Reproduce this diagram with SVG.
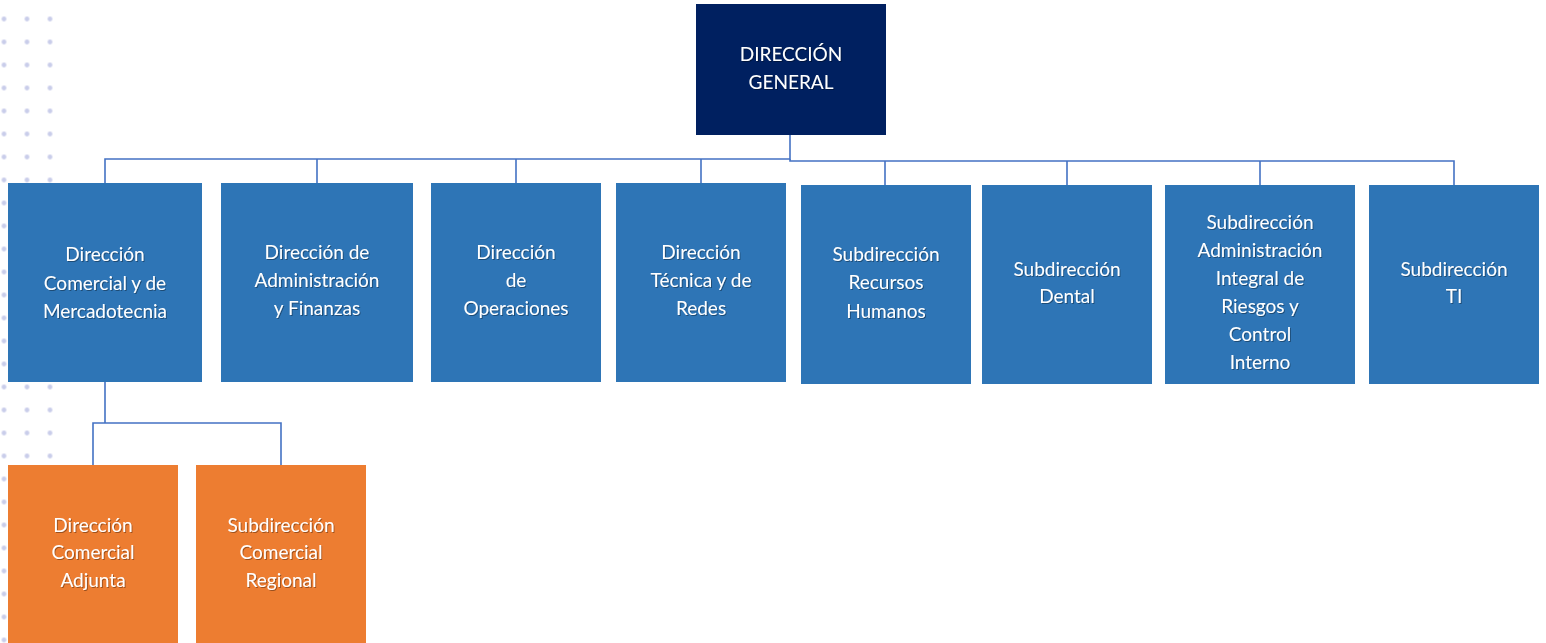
<svg xmlns="http://www.w3.org/2000/svg" width="1546" height="643" viewBox="0 0 1546 643">
<defs>
<pattern id="dots" x="-7.5" y="7.5" width="23" height="23" patternUnits="userSpaceOnUse">
<circle cx="11.5" cy="11.5" r="2.4" fill="#c9cdea"/>
</pattern>
<filter id="sh" x="-10%" y="-10%" width="120%" height="130%">
<feDropShadow dx="1" dy="1" stdDeviation="0.6" flood-color="#000" flood-opacity="0.35"/>
</filter>
</defs>
<style>
.b{fill:#2e75b6}
.o{fill:#ed7d31}
.d{fill:#002060}
.t{font-family:Lato,"Open Sans","Liberation Sans",sans-serif;font-size:19px;fill:#fff;text-anchor:middle;filter:url(#sh)}
.c{fill:none;stroke:#4472c4;stroke-width:1.6}
</style>
<rect x="0" y="0" width="56" height="643" fill="url(#dots)"/>
<g id="connectors">
<path class="c" d="M790 135V159H105V183M317 159V183M516 159V183M701 159V183"/>
<path class="c" d="M790 159V161H1454V185M885 161V185M1067 161V185M1260 161V185"/>
<path class="c" d="M105 382V423H93V465M105 423H281V465"/>
</g>
<g id="n0"><rect class="d" x="696" y="4" width="190" height="131"/>
<text class="t" x="791" y="61">DIRECCIÓN</text><text class="t" x="791" y="89">GENERAL</text></g>
<g id="n1"><rect class="b" x="8" y="183" width="194" height="199"/>
<text class="t" x="105" y="261">Dirección</text><text class="t" x="105" y="290">Comercial y de</text><text class="t" x="105" y="318">Mercadotecnia</text></g>
<g id="n2"><rect class="b" x="221" y="183" width="192" height="199"/>
<text class="t" x="317" y="259">Dirección de</text><text class="t" x="317" y="287">Administración</text><text class="t" x="317" y="315">y Finanzas</text></g>
<g id="n3"><rect class="b" x="431" y="183" width="170" height="199"/>
<text class="t" x="516" y="259">Dirección</text><text class="t" x="516" y="287">de</text><text class="t" x="516" y="315">Operaciones</text></g>
<g id="n4"><rect class="b" x="616" y="183" width="170" height="199"/>
<text class="t" x="701" y="259">Dirección</text><text class="t" x="701" y="287">Técnica y de</text><text class="t" x="701" y="315">Redes</text></g>
<g id="n5"><rect class="b" x="801" y="185" width="170" height="199"/>
<text class="t" x="886" y="261">Subdirección</text><text class="t" x="886" y="289">Recursos</text><text class="t" x="886" y="318">Humanos</text></g>
<g id="n6"><rect class="b" x="982" y="185" width="170" height="199"/>
<text class="t" x="1067" y="276">Subdirección</text><text class="t" x="1067" y="303">Dental</text></g>
<g id="n7"><rect class="b" x="1165" y="185" width="190" height="199"/>
<text class="t" x="1260" y="229">Subdirección</text><text class="t" x="1260" y="257">Administración</text><text class="t" x="1260" y="285">Integral de</text><text class="t" x="1260" y="313">Riesgos y</text><text class="t" x="1260" y="341">Control</text><text class="t" x="1260" y="369">Interno</text></g>
<g id="n8"><rect class="b" x="1369" y="185" width="170" height="199"/>
<text class="t" x="1454" y="276">Subdirección</text><text class="t" x="1454" y="303">TI</text></g>
<g id="n9"><rect class="o" x="8" y="465" width="170" height="178"/>
<text class="t" x="93" y="532">Dirección</text><text class="t" x="93" y="559">Comercial</text><text class="t" x="93" y="587">Adjunta</text></g>
<g id="n10"><rect class="o" x="196" y="465" width="170" height="178"/>
<text class="t" x="281" y="532">Subdirección</text><text class="t" x="281" y="559">Comercial</text><text class="t" x="281" y="587">Regional</text></g>
</svg>
